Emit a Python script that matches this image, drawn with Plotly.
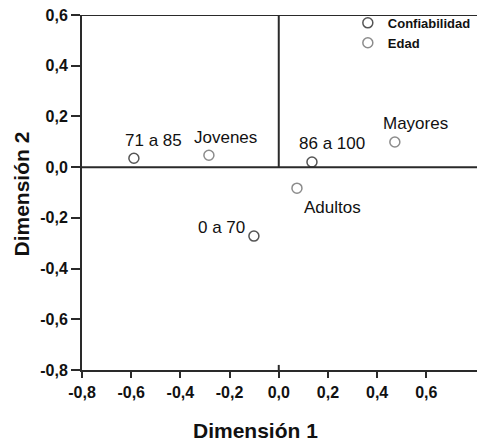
import plotly.graph_objects as go

# Category points (Dimensión 1, Dimensión 2)
conf_labels = ["71 a 85", "86 a 100", "0 a 70"]
conf_dim1 = [-0.589, 0.135, -0.101]
conf_dim2 = [0.035, 0.020, -0.272]

edad_labels = ["Jovenes", "Adultos", "Mayores"]
edad_dim1 = [-0.284, 0.074, 0.472]
edad_dim2 = [0.047, -0.083, 0.099]

tick_vals = [-0.8, -0.6, -0.4, -0.2, 0.0, 0.2, 0.4, 0.6]
tick_text = ["-0,8", "-0,6", "-0,4", "-0,2", "0,0", "0,2", "0,4", "0,6"]

# label offsets in pixels (dx, dy) relative to each point
conf_offsets = [(20, -18), (20, -19), (-32, -9)]
edad_offsets = [(17, -18), (36, 19), (21, -19)]

FONT = "Liberation Sans, Arial, sans-serif"
LINE = "#2a2a2a"
TEXT = "#111111"

fig = go.Figure()
fig.add_trace(go.Scatter(
    x=conf_dim1, y=conf_dim2, mode="markers", name="Confiabilidad",
    marker=dict(symbol="circle-open", size=10, color="#555555", line=dict(width=1.5)),
))
fig.add_trace(go.Scatter(
    x=edad_dim1, y=edad_dim2, mode="markers", name="Edad",
    marker=dict(symbol="circle-open", size=10, color="#8c8c8c", line=dict(width=1.5)),
))

annotations = []
for labels, xs, ys, offs in [(conf_labels, conf_dim1, conf_dim2, conf_offsets),
                             (edad_labels, edad_dim1, edad_dim2, edad_offsets)]:
    for lab, xv, yv, (dx, dy) in zip(labels, xs, ys, offs):
        annotations.append(dict(
            x=xv, y=yv, xref="x", yref="y", text=lab, showarrow=False,
            xanchor="center", yanchor="middle", xshift=dx, yshift=-dy,
            font=dict(family=FONT, size=17, color=TEXT),
        ))

# axis titles
annotations.append(dict(
    x=0.438, y=-0.17, xref="paper", yref="paper", text="<b>Dimensión 1</b>",
    showarrow=False, xanchor="center", yanchor="middle",
    font=dict(family=FONT, size=21, color=TEXT),
))
annotations.append(dict(
    x=-0.152, y=0.497, xref="paper", yref="paper", text="<b>Dimensión 2</b>",
    showarrow=False, xanchor="center", yanchor="middle", textangle=-90,
    font=dict(family=FONT, size=21, color=TEXT),
))

shapes = [
    # frame top at 0.6
    dict(type="line", xref="paper", yref="y", x0=0, x1=1, y0=0.6, y1=0.6,
         line=dict(color=LINE, width=2)),
    # reference line at Dimensión 2 = 0
    dict(type="line", xref="paper", yref="y", x0=0, x1=1, y0=0, y1=0,
         line=dict(color=LINE, width=2)),
    # reference line at Dimensión 1 = 0 (upper half)
    dict(type="line", xref="x", yref="y", x0=0, x1=0, y0=0, y1=0.6,
         line=dict(color=LINE, width=2)),
    # small stub above the x axis at 0
    dict(type="line", xref="x", yref="y", x0=0, x1=0, y0=-0.8, y1=-0.78,
         line=dict(color=LINE, width=2)),
]

fig.update_layout(
    width=477, height=445,
    margin=dict(l=82, r=0, t=15, b=75),
    paper_bgcolor="white", plot_bgcolor="white",
    showlegend=True,
    legend=dict(
        x=0.673, y=1.02, xanchor="left", yanchor="top",
        bgcolor="rgba(0,0,0,0)", borderwidth=0, tracegroupgap=0,
        itemwidth=30,
        font=dict(family=FONT, size=13, color=TEXT, weight="bold"),
    ),
    annotations=annotations,
    shapes=shapes,
)

fig.update_xaxes(
    range=[-0.8, 0.806], tickvals=tick_vals, ticktext=tick_text,
    showgrid=False, zeroline=False, showline=True, linecolor=LINE, linewidth=2,
    ticks="outside", ticklen=6, tickwidth=2, tickcolor=LINE,
    ticklabelstandoff=1,
    tickfont=dict(family=FONT, size=16, color=TEXT, weight="bold"),
)
fig.update_yaxes(
    range=[-0.8, 0.6], tickvals=tick_vals, ticktext=tick_text,
    showgrid=False, zeroline=False, showline=True, linecolor=LINE, linewidth=2,
    ticks="outside", ticklen=9, tickwidth=2, tickcolor=LINE,
    ticklabelstandoff=0,
    tickfont=dict(family=FONT, size=16, color=TEXT, weight="bold"),
)

fig.write_html("out.html")
